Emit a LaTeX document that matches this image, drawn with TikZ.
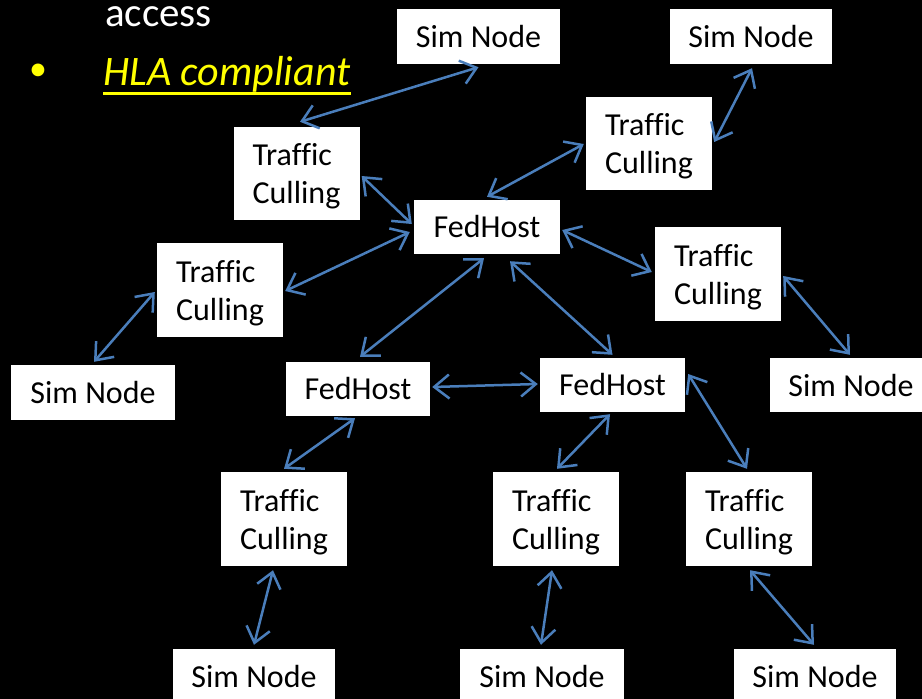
\documentclass[tikz,border=0pt]{standalone}
\usepackage{fontspec}
\setmainfont[Ligatures=CommonOff]{Carlito}
\usetikzlibrary{arrows.meta,calc}
\definecolor{linkblue}{RGB}{74,126,187}
\definecolor{hlayellow}{RGB}{255,255,0}
\begin{document}
\begin{tikzpicture}[x=1pt,y=-1pt,
  box/.style={draw=none,fill=white,text=black,inner sep=0pt,align=left,
    font=\fontsize{32}{38}\selectfont},
  simnode/.style={box,minimum width=163pt,minimum height=55pt},
  fedhost/.style={box,minimum width=145pt,minimum height=54pt},
  culling/.style={box,minimum width=126pt,minimum height=94pt,text depth=0pt},
  link/.style={draw=linkblue,line width=2.5pt,
    {Straight Barb[length=15pt,width=24pt]}-{Straight Barb[length=15pt,width=24pt]}},
  slide/.style={inner sep=0pt,anchor=base west,font=\fontsize{41}{48}\selectfont}]
\useasboundingbox (0,0) rectangle (922,699);
\fill[black] (0,0) rectangle (922,699);
\clip (0,0) rectangle (922,699);

% slide text behind the diagram
\node[slide,text=white] (acc) at (105,26) {access};
\node[inner sep=0pt,text=hlayellow,font=\fontsize{36}{40}\selectfont] (bul) at (38,72) {•};
\node[slide,text=hlayellow,font=\fontsize{42}{48}\selectfont] (hla) at (103,85) {\itshape HLA compliant};
\draw[hlayellow,line width=3pt] ($(hla.base west)+(0,8)$) -- ($(hla.base east)+(0,8)$);

% boxes
\node[simnode] (sn1) at (478.5,36.5) {Sim Node};
\node[simnode,minimum width=162pt] (sn2) at (751,36.5) {Sim Node};
\node[culling,minimum height=93pt] (tc3) at (649,143.5) {Traffic\\Culling};
\node[culling,minimum height=93pt] (tc4) at (296.5,173.5) {Traffic\\Culling};
\node[fedhost,minimum width=146pt] (fh5) at (487,227) {FedHost};
\node[culling] (tc6) at (220,290) {Traffic\\Culling};
\node[culling] (tc7) at (718,274) {Traffic\\Culling};
\node[simnode,minimum width=164pt] (sn8) at (93,392.5) {Sim Node};
\node[fedhost,minimum width=144pt] (fh9) at (358,389) {FedHost};
\node[fedhost] (fh10) at (612.5,385) {FedHost};
\node[simnode,minimum width=162pt,minimum height=54pt] (sn11) at (851,385) {Sim Node};
\node[culling] (tc12) at (284,519) {Traffic\\Culling};
\node[culling] (tc13) at (556,519) {Traffic\\Culling};
\node[culling] (tc14) at (749,519) {Traffic\\Culling};
\node[simnode,minimum width=162pt] (sn15) at (254,676) {Sim Node};
\node[simnode,minimum width=164pt] (sn16) at (542,676) {Sim Node};
\node[simnode,minimum width=162pt] (sn17) at (815,676) {Sim Node};

% two-way links
\draw[link] ($(sn1.south)+(0,3)$) -- ($(tc4.north)+(3.5,-5)$);
\draw[link] ($(sn2.south)+(1,4)$) -- ($(tc3.east)+(2,-1.5)$);
\draw[link] ($(tc3.west)+(-2,0.5)$) -- ($(fh5.north)+(0,-3)$);
\draw[link] ($(tc4.east)+(2,2.5)$) -- ($(fh5.west)+(-2,-3)$);
\draw[link] ($(fh5.west)+(-4,5)$) -- ($(tc6.east)+(2,1)$);
\draw[link] ($(fh5.east)+(2,3)$) -- ($(tc7.west)+(-3,-2)$);
\draw[link] ($(tc6.west)+(-2,2)$) -- ($(sn8.north)+(1,-3)$);
\draw[link] ($(tc7.east)+(2,2)$) -- ($(sn11.north)+(-1,-3)$);
\draw[link] ($(fh5.south)+(-3,4)$) -- ($(fh9.north)+(2,-5)$);
\draw[link] ($(fh5.south)+(23,7)$) -- ($(fh10.north)+(0,-3)$);
\draw[link] ($(fh9.east)+(2,-2)$) -- ($(fh10.west)+(-2,-1)$);
\draw[link] ($(fh9.south)+(-3,2)$) -- ($(tc12.north)+(0,-3)$);
\draw[link] ($(fh10.south)+(-2.5,2)$) -- ($(tc13.north)+(1,-3)$);
\draw[link] ($(fh10.east)+(3,-11)$) -- ($(tc14.north)+(-2,-3)$);
\draw[link] ($(tc12.south)+(-11,4)$) -- ($(sn15.north)+(0,-3.5)$);
\draw[link] ($(tc13.south)+(-4,4)$) -- ($(sn16.north)+(-1,-3.5)$);
\draw[link] ($(tc14.south)+(1,4)$) -- ($(sn17.north)+(-1,-3.5)$);
\end{tikzpicture}
\end{document}
